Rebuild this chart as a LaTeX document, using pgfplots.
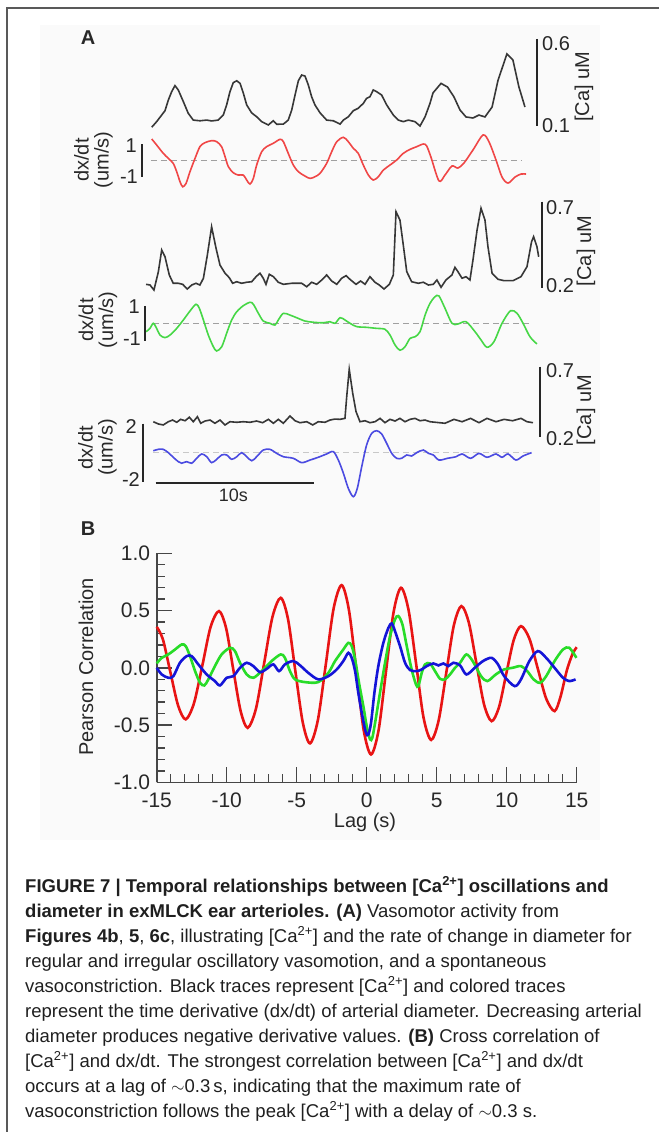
\documentclass[border=0pt]{standalone}
\usepackage{fontspec}
\setmainfont{Liberation Sans}
\usepackage{pgfplots}
\pgfplotsset{compat=1.18}
\definecolor{trk}{RGB}{55,55,55}
\definecolor{tred}{RGB}{240,70,70}
\definecolor{tgreen}{RGB}{70,215,70}
\definecolor{tblue}{RGB}{75,75,225}
\definecolor{bred}{RGB}{232,20,20}
\definecolor{bgreen}{RGB}{40,220,40}
\definecolor{bblue}{RGB}{20,20,215}
\definecolor{axgray}{RGB}{70,70,70}
\definecolor{dgray}{RGB}{160,160,160}
\definecolor{lgray}{RGB}{200,200,200}
\definecolor{txt}{RGB}{40,40,40}
\newcommand{\lab}{\fontsize{20}{20}\selectfont}
\newcommand{\tlab}{\fontsize{21}{21}\selectfont}
\newcommand{\capf}{\fontsize{18.5}{25}\selectfont}
\newcommand{\ca}{[Ca\textsuperscript{2+}]}
\pgfplotsset{trace/.style={hide axis, scale only axis, anchor=south west, clip=false,
  xmin=0, xmax=25, width=395pt}}
\begin{document}
\begin{tikzpicture}
\useasboundingbox (0pt,0pt) rectangle (659pt,-1132pt);
\fill[black!2] (40pt,-25pt) rectangle (600pt,-840pt);
\draw[black!65, line width=1.5pt] (7pt,-1132pt) -- (7pt,-8pt) -- (659pt,-8pt);

% ---------------- Panel A ----------------
\node[font=\lab\bfseries, text=txt] at (88pt,-38pt) {A};

% trace 1 [Ca]
\begin{axis}[trace, at={(150pt,-126pt)}, ymin=0.1, ymax=0.6, height=87pt]
\addplot[trk, line width=1.6pt] coordinates {(0.11,0.093)(0.42,0.125)(0.74,0.163)(0.95,0.188)(1.16,0.249)(1.37,0.297)(1.58,0.332)(1.79,0.307)(2.11,0.240)(2.42,0.173)(2.74,0.134)(3.16,0.130)(3.59,0.134)(3.9,0.129)(4.32,0.134)(4.64,0.163)(4.85,0.221)(5.06,0.297)(5.27,0.349)(5.49,0.360)(5.7,0.345)(5.91,0.288)(6.12,0.221)(6.43,0.176)(6.75,0.153)(7.07,0.125)(7.49,0.106)(7.8,0.130)(8.02,0.110)(8.44,0.111)(8.75,0.134)(8.97,0.192)(9.18,0.278)(9.39,0.360)(9.6,0.393)(9.81,0.387)(10.02,0.336)(10.23,0.268)(10.44,0.221)(10.76,0.176)(11.18,0.134)(11.6,0.130)(12.03,0.111)(12.24,0.134)(12.55,0.153)(12.87,0.188)(13.18,0.202)(13.5,0.230)(13.71,0.259)(13.92,0.268)(14.13,0.307)(14.35,0.297)(14.66,0.278)(14.98,0.221)(15.4,0.163)(15.72,0.134)(16.03,0.125)(16.35,0.134)(16.77,0.125)(17.09,0.100)(17.41,0.153)(17.72,0.230)(17.91,0.290)(18.42,0.345)(18.83,0.324)(19.24,0.267)(19.62,0.192)(20.0,0.152)(20.44,0.146)(20.82,0.163)(21.2,0.152)(21.65,0.209)(22.03,0.364)(22.59,0.514)(22.97,0.479)(23.35,0.324)(23.6,0.249)(23.73,0.209)};
\end{axis}
% trace 1 dx/dt
\begin{axis}[trace, at={(150pt,-177.4pt)}, ymin=-1, ymax=1, height=33.4pt]
\addplot[dgray, line width=1.5pt, dash pattern=on 6pt off 4pt] coordinates {(0.06,0)(23.5,0)};
\addplot[tred, line width=1.6pt, smooth] coordinates {(0.11,1.30)(0.42,0.94)(0.84,0.44)(1.16,0.14)(1.47,-0.16)(1.69,-0.66)(1.9,-1.26)(2.07,-1.56)(2.28,-1.36)(2.53,-0.66)(2.85,0.14)(3.16,0.84)(3.48,1.08)(3.9,1.2)(4.22,1.14)(4.53,0.84)(4.75,0.24)(4.96,-0.36)(5.27,-0.72)(5.59,-0.86)(5.91,-0.86)(6.12,-1.16)(6.33,-1.40)(6.54,-1.06)(6.75,-0.26)(7.07,0.54)(7.38,0.84)(7.8,1.04)(8.23,1.28)(8.44,1.14)(8.75,0.44)(9.07,-0.26)(9.39,-0.66)(9.81,-0.92)(10.13,-1.06)(10.44,-0.96)(10.76,-0.76)(11.18,-0.16)(11.5,0.54)(11.82,1.14)(12.24,1.40)(12.55,1.14)(12.87,0.74)(13.18,0.44)(13.5,-0.26)(13.82,-0.86)(14.13,-1.16)(14.45,-0.96)(14.77,-0.56)(15.19,-0.26)(15.61,0.04)(16.03,0.44)(16.46,0.68)(16.88,0.84)(17.3,1.00)(17.51,0.88)(17.78,0.22)(18.29,-1.21)(18.67,-0.86)(19.11,-0.32)(19.49,-0.44)(19.87,-0.14)(20.44,0.64)(21.08,1.54)(21.46,1.12)(21.9,0.04)(22.28,-0.98)(22.66,-1.34)(23.1,-0.98)(23.48,-0.80)(23.8,-0.80)};
\end{axis}

% trace 2 [Ca]
\begin{axis}[trace, at={(150pt,-288.3pt)}, ymin=0.2, ymax=0.7, height=86.6pt]
\addplot[trk, line width=1.6pt] coordinates {(-0.25,0.223)(0,0.219)(0.25,0.19)(0.53,0.296)(0.74,0.421)(0.95,0.382)(1.22,0.277)(1.47,0.229)(1.79,0.229)(2.07,0.223)(2.36,0.196)(2.64,0.219)(2.91,0.229)(3.16,0.219)(3.38,0.258)(3.63,0.392)(3.9,0.555)(4.18,0.431)(4.43,0.334)(4.75,0.287)(5.02,0.261)(5.23,0.229)(5.49,0.238)(5.8,0.229)(6.12,0.235)(6.44,0.238)(6.71,0.267)(6.96,0.287)(7.17,0.258)(7.34,0.223)(7.55,0.281)(7.81,0.267)(8.12,0.235)(8.44,0.223)(8.97,0.229)(9.6,0.229)(9.92,0.209)(10.23,0.235)(10.55,0.223)(10.87,0.248)(11.18,0.277)(11.5,0.242)(11.82,0.223)(12.13,0.258)(12.41,0.273)(12.7,0.248)(13.04,0.223)(13.33,0.242)(13.61,0.223)(13.92,0.267)(14.24,0.235)(14.51,0.219)(14.81,0.196)(15.15,0.223)(15.4,0.277)(15.57,0.642)(15.82,0.594)(16.03,0.45)(16.25,0.296)(16.56,0.238)(16.98,0.229)(17.3,0.235)(17.62,0.219)(17.93,0.223)(18.16,0.248)(18.42,0.206)(18.73,0.248)(19.11,0.277)(19.3,0.321)(19.49,0.296)(19.75,0.258)(20.0,0.267)(20.25,0.248)(20.44,0.363)(20.7,0.536)(20.95,0.662)(21.2,0.594)(21.39,0.44)(21.65,0.287)(22.03,0.252)(22.41,0.244)(22.97,0.244)(23.48,0.267)(23.86,0.325)(24.15,0.469)(24.28,0.498)(24.49,0.44)(24.6,0.382)};
\end{axis}
% trace 2 dx/dt
\begin{axis}[trace, at={(150pt,-340.8pt)}, ymin=-1, ymax=1, height=35pt]
\addplot[dgray, line width=1.5pt, dash pattern=on 6pt off 4pt] coordinates {(0.19,0)(24.1,0)};
\addplot[tgreen, line width=1.6pt, smooth] coordinates {(-0.25,-0.48)(0,-0.29)(0.21,0)(0.42,-0.29)(0.63,-0.67)(0.95,-0.82)(1.27,-0.67)(1.69,-0.29)(2.11,0.19)(2.53,0.70)(2.91,1.09)(3.12,0.86)(3.38,0.19)(3.69,-0.67)(4.01,-1.34)(4.22,-1.58)(4.54,-1.34)(4.85,-0.57)(5.17,0.19)(5.49,0.66)(5.91,1.01)(6.33,1.20)(6.54,1.09)(6.86,0.57)(7.17,0.13)(7.59,0)(7.91,-0.1)(8.12,0.19)(8.44,0.57)(8.86,0.47)(9.28,0.32)(9.81,0.13)(10.34,0.06)(10.97,0.03)(11.39,0.09)(11.71,0)(12.03,0.32)(12.34,0.19)(12.66,0)(13.08,-0.19)(13.71,-0.23)(14.35,-0.29)(14.87,-0.34)(15.19,-0.67)(15.51,-1.24)(15.82,-1.54)(16.14,-1.34)(16.46,-0.86)(16.77,-0.77)(17.09,-0.48)(17.41,0.47)(17.72,1.14)(18.04,1.52)(18.29,1.56)(18.67,0.86)(19.11,0)(19.49,-0.04)(20.0,0.09)(20.57,-0.48)(20.95,-0.95)(21.33,-1.37)(21.77,-1.05)(22.28,0)(22.82,0.72)(23.23,0.57)(23.61,0)(24.05,-0.77)(24.49,-1.18)};
\end{axis}

% trace 3 [Ca]
\begin{axis}[trace, at={(150pt,-436.7pt)}, ymin=0.2, ymax=0.7, height=70pt]
\addplot[trk, line width=1.6pt] coordinates {(0.21,0.307)(0.53,0.291)(0.84,0.284)(1.16,0.307)(1.43,0.319)(1.69,0.303)(1.94,0.324)(2.22,0.314)(2.49,0.339)(2.74,0.307)(3.0,0.343)(3.21,0.296)(3.48,0.312)(3.8,0.319)(4.11,0.296)(4.43,0.319)(4.75,0.284)(5.06,0.307)(5.49,0.303)(5.91,0.307)(6.33,0.303)(6.75,0.312)(7.13,0.300)(7.49,0.324)(7.81,0.296)(8.12,0.324)(8.44,0.296)(8.86,0.348)(9.18,0.314)(9.49,0.300)(9.92,0.307)(10.3,0.284)(10.65,0.307)(11.08,0.303)(11.39,0.319)(11.71,0.326)(12.03,0.324)(12.34,0.331)(12.45,0.486)(12.61,0.681)(12.83,0.510)(13.04,0.379)(13.29,0.307)(13.61,0.314)(13.92,0.300)(14.24,0.307)(14.56,0.331)(14.87,0.300)(15.19,0.324)(15.51,0.312)(15.82,0.331)(16.14,0.307)(16.46,0.324)(16.77,0.331)(17.09,0.314)(17.41,0.319)(17.72,0.307)(18.67,0.296)(19.24,0.324)(19.75,0.307)(20.29,0.331)(20.82,0.300)(21.33,0.331)(21.9,0.307)(22.41,0.324)(22.95,0.314)(23.48,0.331)(23.86,0.307)(24.24,0.300)};
\end{axis}
% trace 3 dx/dt
\begin{axis}[trace, at={(150pt,-481.5pt)}, ymin=-2, ymax=2, height=58pt]
\addplot[lgray, line width=1.5pt, dash pattern=on 6pt off 4pt] coordinates {(0.19,0)(24.1,0)};
\addplot[tblue, line width=1.6pt, smooth] coordinates {(0.21,0.12)(0.53,0.22)(0.84,0.22)(1.16,-0.01)(1.47,-0.33)(1.79,-0.63)(2.0,-0.74)(2.32,-0.63)(2.64,-0.74)(2.95,-0.40)(3.27,-0.10)(3.59,-0.29)(3.9,-0.70)(4.22,-0.47)(4.54,-0.17)(4.85,-0.17)(5.17,-0.47)(5.49,-0.29)(5.8,-0.01)(6.12,-0.29)(6.44,-0.57)(6.75,-0.29)(7.17,0.17)(7.59,0.22)(8.02,-0.06)(8.44,-0.29)(9.07,-0.40)(9.6,-0.70)(10.13,-0.52)(10.65,-0.33)(11.18,-0.10)(11.6,0.06)(11.92,-0.52)(12.24,-1.43)(12.55,-2.47)(12.87,-3.05)(13.12,-2.47)(13.4,-0.98)(13.71,0.52)(14.03,1.32)(14.35,1.50)(14.66,1.28)(14.98,0.63)(15.3,-0.06)(15.61,-0.40)(15.93,-0.40)(16.25,-0.17)(16.56,-0.24)(16.88,-0.01)(17.3,0.17)(17.62,-0.06)(17.93,-0.17)(18.29,-0.52)(18.83,-0.40)(19.37,-0.29)(19.75,-0.10)(20.29,-0.40)(20.82,-0.06)(21.33,-0.33)(21.9,-0.10)(22.28,-0.33)(22.66,-0.10)(23.16,-0.52)(23.61,-0.24)(24.15,-0.01)};
\end{axis}

% scale bars
\begin{scope}[line width=2pt, black!85]
\draw (537pt,-39pt) -- (537pt,-126pt);
\draw (142.3pt,-144pt) -- (142.3pt,-177.4pt);
\draw (542pt,-201.7pt) -- (542pt,-288.3pt);
\draw (145pt,-305.8pt) -- (145pt,-340.8pt);
\draw (540pt,-366.7pt) -- (540pt,-436.7pt);
\draw (143.3pt,-423.5pt) -- (143.3pt,-481.5pt);
\draw (155.7pt,-482.7pt) -- (314pt,-482.7pt);
\end{scope}

% scale labels
\begin{scope}[every node/.style={font=\lab, text=txt, inner sep=0pt}]
\node[anchor=west] at (542pt,-44pt) {0.6};
\node[anchor=west] at (542pt,-126pt) {0.1};
\node[rotate=90] at (584pt,-86.7pt) {[Ca] uM};
\node[anchor=east] at (137pt,-146pt) {1};
\node[anchor=east] at (138pt,-177pt) {-1};
\node[rotate=90, align=center, font=\fontsize{20}{20}\selectfont] at (93.5pt,-160pt) {dx/dt\\(um/s)};

\node[anchor=west] at (546pt,-207.5pt) {0.7};
\node[anchor=west] at (546pt,-286pt) {0.2};
\node[rotate=90] at (586pt,-251pt) {[Ca] uM};
\node[anchor=east] at (140pt,-307pt) {1};
\node[anchor=east] at (141pt,-339pt) {-1};
\node[rotate=90, align=center, font=\fontsize{20}{20}\selectfont] at (98pt,-320pt) {dx/dt\\(um/s)};

\node[anchor=west] at (546pt,-371pt) {0.7};
\node[anchor=west] at (546pt,-439pt) {0.2};
\node[rotate=90] at (586pt,-410pt) {[Ca] uM};
\node[anchor=east] at (137pt,-427pt) {2};
\node[anchor=east] at (140pt,-480pt) {-2};
\node[rotate=90, align=center, font=\fontsize{20}{20}\selectfont] at (97.5pt,-447.5pt) {dx/dt\\(um/s)};

\node[font=\fontsize{18}{18}\selectfont] at (233.3pt,-495pt) {10s};
\end{scope}

% ---------------- Panel B ----------------
\node[font=\lab\bfseries, text=txt] at (88pt,-529pt) {B};
\begin{axis}[at={(156.7pt,-782.3pt)}, anchor=south west, scale only axis,
  width=420pt, height=229pt, xmin=-15, xmax=15, ymin=-1, ymax=1,
  axis x line*=bottom, axis y line*=left,
  axis line style={draw=axgray, line width=1.6pt},
  tick align=inside,
  major tick length=15pt, minor tick length=8pt,
  every tick/.style={axgray, line width=1.4pt},
  xtick={-15,-10,-5,0,5,10,15}, xticklabels={-15,-10,-5,0,5,10,15},
  minor xtick={-14,-13,...,14},
  ytick={-1,-0.5,0,0.5,1}, yticklabels={-1.0,-0.5,0.0,0.5,1.0},
  minor ytick={-0.9,-0.8,-0.7,-0.6,-0.4,-0.3,-0.2,-0.1,0.1,0.2,0.3,0.4,0.6,0.7,0.8,0.9},
  ticklabel style={font=\tlab, text=txt},
  xticklabel style={yshift=-7pt},
  yticklabel style={xshift=-3pt},
  clip=false]
\addplot[bred, line width=2.6pt, smooth] coordinates {(-15,0.358)(-14.56,0.25)(-14.02,-0.04)(-13.47,-0.33)(-12.93,-0.45)(-12.34,-0.31)(-11.74,0.02)(-11.15,0.357)(-10.55,0.495)(-10.04,0.345)(-9.53,-0.015)(-9.01,-0.375)(-8.5,-0.524)(-7.91,-0.357)(-7.32,0.044)(-6.73,0.445)(-6.14,0.611)(-5.62,0.425)(-5.10,-0.025)(-4.57,-0.475)(-4.05,-0.66)(-3.49,-0.458)(-2.92,0.031)(-2.36,0.52)(-1.79,0.722)(-1.27,0.505)(-0.74,-0.018)(-0.22,-0.541)(0.31,-0.757)(0.85,-0.544)(1.38,-0.029)(1.92,0.486)(2.45,0.699)(2.99,0.504)(3.53,0.035)(4.06,-0.435)(4.6,-0.63)(5.14,-0.459)(5.68,-0.046)(6.22,0.368)(6.76,0.539)(7.3,0.392)(7.84,0.037)(8.38,-0.319)(8.92,-0.466)(9.45,-0.344)(9.97,-0.051)(10.5,0.242)(11.02,0.364)(11.62,0.255)(12.22,-0.007)(12.82,-0.269)(13.42,-0.378)(13.85,-0.25)(14.3,-0.02)(14.7,0.12)(15.0,0.18)};
\addplot[bgreen, line width=2.6pt, smooth] coordinates {(-15,0.038)(-14.64,0.087)(-14.17,0.117)(-13.69,0.16)(-13.21,0.204)(-12.93,0.19)(-12.62,0.102)(-12.26,-0.029)(-11.9,-0.131)(-11.6,-0.154)(-11.31,-0.101)(-10.84,0.015)(-10.36,0.117)(-9.76,0.175)(-9.41,0.146)(-9.05,0.044)(-8.57,-0.058)(-8.1,-0.087)(-7.5,-0.029)(-6.79,0.059)(-6.14,0.117)(-5.84,0.087)(-5.48,-0.029)(-5.12,-0.101)(-4.41,-0.125)(-3.46,-0.125)(-2.74,-0.044)(-2.26,0.059)(-1.67,0.16)(-1.31,0.218)(-1.07,0.19)(-0.83,0.073)(-0.55,-0.131)(-0.24,-0.335)(0,-0.509)(0.24,-0.625)(0.4,-0.611)(0.6,-0.48)(0.95,-0.218)(1.31,0.044)(1.67,0.277)(2.02,0.423)(2.26,0.452)(2.55,0.379)(2.86,0.19)(3.21,-0.014)(3.52,-0.145)(3.69,-0.16)(3.93,-0.044)(4.17,0.03)(4.52,0.038)(4.88,-0.029)(5.24,-0.096)(5.59,-0.101)(5.95,-0.058)(6.31,0)(6.67,0.044)(7.12,0.117)(7.57,0.059)(8.17,-0.073)(8.62,-0.116)(9.22,-0.058)(9.82,-0.014)(10.42,0)(11.02,0.015)(11.47,-0.029)(11.92,-0.101)(12.38,-0.131)(12.82,-0.073)(13.42,0.059)(14.02,0.16)(14.47,0.175)(14.98,0.087)};
\addplot[bblue, line width=2.6pt, smooth] coordinates {(-15,0)(-14.64,-0.058)(-14.17,-0.087)(-13.81,-0.073)(-13.34,0.044)(-12.86,0.102)(-12.5,0.102)(-12.03,0.03)(-11.43,-0.058)(-10.84,-0.116)(-10.48,-0.154)(-10.0,-0.087)(-9.53,-0.073)(-9.05,0)(-8.57,0.044)(-8.1,0.015)(-7.62,-0.038)(-7.14,-0.009)(-6.67,0.03)(-6.26,-0.029)(-5.84,0.03)(-5.24,0.059)(-4.76,0.021)(-4.17,-0.044)(-3.46,-0.101)(-2.74,-0.073)(-2.14,-0.014)(-1.67,0.059)(-1.31,0.131)(-1.07,0.087)(-0.83,-0.029)(-0.6,-0.218)(-0.31,-0.422)(-0.05,-0.568)(0.12,-0.582)(0.31,-0.48)(0.55,-0.218)(0.83,0.015)(1.19,0.218)(1.55,0.349)(1.79,0.388)(2.02,0.32)(2.38,0.19)(2.74,0.044)(3.1,-0.02)(3.57,-0.029)(3.93,-0.014)(4.29,0.015)(4.76,0.038)(5.12,0.021)(5.48,0.038)(5.83,0.015)(6.19,0.044)(6.67,0.021)(7.12,-0.058)(7.72,0)(8.31,0.059)(8.92,0.087)(9.38,0.03)(9.82,-0.073)(10.57,-0.16)(11.02,-0.101)(11.62,0.059)(12.22,0.146)(12.82,0.087)(13.42,0)(14.02,-0.087)(14.47,-0.116)(14.92,-0.101)};
\end{axis}
\node[font=\lab, text=txt] at (365pt,-822pt) {Lag (s)};
\node[font=\lab, text=txt, rotate=90] at (86pt,-667pt) {Pearson Correlation};

% ---------------- Caption ----------------
\begin{scope}[every node/.style={anchor=base west, inner sep=0pt, font=\capf, text=black!88}]
\node at (25pt,-892pt) {\textbf{FIGURE 7 | Temporal relationships between \ca{} oscillations and}};
\node at (25pt,-917pt) {\textbf{diameter in exMLCK ear arterioles. (A)} Vasomotor activity from};
\node at (25pt,-942pt) {\textbf{Figures 4b}, \textbf{5}, \textbf{6c}, illustrating \ca{} and the rate of change in diameter for};
\node at (25pt,-967pt) {regular and irregular oscillatory vasomotion, and a spontaneous};
\node at (25pt,-992pt) {vasoconstriction. Black traces represent \ca{} and colored traces};
\node at (25pt,-1017pt) {represent the time derivative (dx/dt) of arterial diameter. Decreasing arterial};
\node at (25pt,-1042pt) {diameter produces negative derivative values. \textbf{(B)} Cross correlation of};
\node at (25pt,-1067pt) {\ca{} and dx/dt. The strongest correlation between \ca{} and dx/dt};
\node at (25pt,-1092pt) {occurs at a lag of $\sim$0.3\,s, indicating that the maximum rate of};
\node at (25pt,-1117pt) {vasoconstriction follows the peak \ca{} with a delay of $\sim$0.3 s.};
\end{scope}
\end{tikzpicture}
\end{document}
